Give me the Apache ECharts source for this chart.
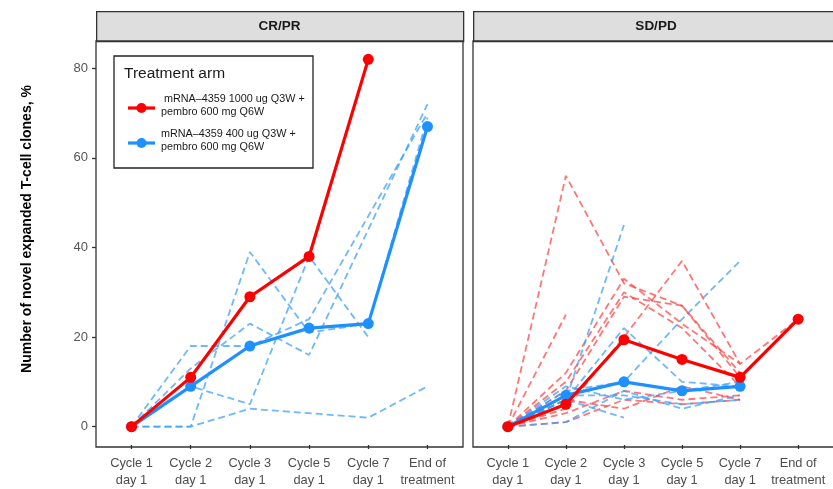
<!DOCTYPE html>
<html>
<head>
<meta charset="utf-8">
<script src="https://cdn.jsdelivr.net/npm/echarts@6/dist/echarts.min.js"></script>
<style>
html,body{margin:0;padding:0;background:#fff;}
#chart{width:833px;height:489px;}
</style>
</head>
<body>
<div id="chart"></div>
<script>
// ---------- data ----------
const categories = ['Cycle 1\nday 1', 'Cycle 2\nday 1', 'Cycle 3\nday 1', 'Cycle 5\nday 1', 'Cycle 7\nday 1', 'End of\ntreatment'];
const yTicks = [0, 20, 40, 60, 80];
const panelTitles = ['CR/PR', 'SD/PD'];
const legendTitle = 'Treatment arm';
const armRedLabel = ' mRNA–4359 1000 ug Q3W +\npembro 600 mg Q6W';
const armBlueLabel = 'mRNA–4359 400 ug Q3W +\npembro 600 mg Q6W';

// CR/PR panel
const crprRedMean = [0, 11, 29, 38, 82, null];
const crprBlueMean = [0, 9, 18, 22, 23, 67];
const crprBluePatients = [
  [0, 0, 4, 3, 2, 9],
  [0, 0, 39, 21, 23, 69],
  [0, 18, 18, 24, 47, 70],
  [0, 13, 23, 16, 44, 72],
  [0, 9, 5, 38, 20, null]
];

// SD/PD panel
const sdpdRedMean = [0, 5, 19.4, 15, 11, 24];
const sdpdBlueMean = [0, 7, 10, 8, 9, null];
const sdpdRedPatients = [
  [0, 56, 32, 27, 12, null],
  [0, 25, null, null, null, null],
  [0, 12, 33, 23, 14, null],
  [0, 4, 20, 37, 14, 24],
  [0, 8, 29, 27, 11, null],
  [0, 6, 4, 9, 6, null],
  [0, 3, 8, 6, 7, null],
  [0, 10, 30, 22, 9, null],
  [0, 1, 6, 5, 6, null]
];
const sdpdBluePatients = [
  [0, 6, 45, null, null, null],
  [0, 8, 10, 24, 37, null],
  [0, 6, 22, 10, 9, null],
  [0, 6, 2, null, null, null],
  [0, 7, 7, 5, 6, null],
  [0, 1, 8, 4, 7, null],
  [0, 9, 6, 8, 10, null]
];

// ---------- styles ----------
const RED = '#ff0000';
const BLUE = '#1e90ff';
const RED_DASH = 'rgba(255,60,60,0.7)';
const BLUE_DASH = 'rgba(60,160,255,0.75)';
const FONT = 'Liberation Sans, Arial, Helvetica, sans-serif';

function toPairs(arr) {
  const out = [];
  arr.forEach((v, i) => { if (v !== null && v !== undefined) out.push([i, v]); });
  return out;
}

const chart = echarts.init(document.getElementById('chart'));

const grids = [
  { left: 96, top: 41, width: 367, height: 406 },
  { left: 473, top: 41, width: 366, height: 406 }
];

const xAxes = grids.map((g, gi) => ({
  type: 'value', gridIndex: gi, min: -0.6, max: 5.6, position: 'bottom',
  splitLine: { show: false },
  axisLine: { show: false, onZero: false },
  axisTick: { show: true, inside: false, customValues: [0, 1, 2, 3, 4, 5], length: 4, lineStyle: { color: '#333', width: 1.3 } },
  axisLabel: {
    customValues: [0, 1, 2, 3, 4, 5],
    formatter: v => categories[Math.round(v)],
    color: '#4d4d4d', fontSize: 12.8, lineHeight: 17, margin: 10, fontFamily: FONT
  }
}));

const yAxes = grids.map((g, gi) => ({
  type: 'value', gridIndex: gi, min: -4.1, max: 86.1, position: 'left',
  splitLine: { show: false },
  axisLine: { show: false, onZero: false },
  axisTick: { show: gi === 0, inside: false, customValues: yTicks, length: 4, lineStyle: { color: '#333', width: 1.3 } },
  axisLabel: {
    show: gi === 0, customValues: yTicks,
    color: '#555', fontSize: 13, margin: 8, fontFamily: FONT
  }
}));

const series = [];
function addDashed(list, color, gi) {
  list.forEach(p => series.push({
    type: 'line', xAxisIndex: gi, yAxisIndex: gi, data: toPairs(p),
    showSymbol: false, symbol: 'none', silent: true, z: 2,
    lineStyle: { color: color, width: 1.8, type: [7, 4] }
  }));
}
function addMean(arr, color, gi, z) {
  series.push({
    type: 'line', xAxisIndex: gi, yAxisIndex: gi, data: toPairs(arr),
    symbol: 'circle', symbolSize: 11, showSymbol: true, z: z,
    itemStyle: { color: color }, lineStyle: { color: color, width: 3.2 }
  });
}
addDashed(crprBluePatients, BLUE_DASH, 0);
addMean(crprBlueMean, BLUE, 0, 5);
addMean(crprRedMean, RED, 0, 6);
addDashed(sdpdRedPatients, RED_DASH, 1);
addDashed(sdpdBluePatients, BLUE_DASH, 1);
addMean(sdpdBlueMean, BLUE, 1, 5);
addMean(sdpdRedMean, RED, 1, 6);

// strips, borders, legend, axis title
const graphics = [];
grids.forEach((g, gi) => {
  graphics.push({
    type: 'rect', left: g.left, top: 11, z: 10,
    shape: { x: 0, y: 0, width: g.width, height: 30 },
    style: { fill: '#dedede', stroke: '#333', lineWidth: 1.3 }
  });
  graphics.push({
    type: 'text', z: 11, x: g.left + g.width / 2, y: 26,
    style: { text: panelTitles[gi], fill: '#1a1a1a', font: 'bold 13.5px ' + FONT, textAlign: 'center', textVerticalAlign: 'middle' }
  });
  graphics.push({
    type: 'rect', z: 10, x: g.left, y: g.top,
    shape: { x: 0, y: 0, width: g.width, height: g.height },
    style: { fill: 'none', stroke: '#333', lineWidth: 1.3 }
  });
});
// legend
graphics.push({
  type: 'rect', z: 20, x: 114, y: 56,
  shape: { x: 0, y: 0, width: 199, height: 112 },
  style: { fill: '#fff', stroke: '#222', lineWidth: 1.3 }
});
graphics.push({
  type: 'text', z: 21, x: 124, y: 74,
  style: { text: legendTitle, fill: '#1a1a1a', font: '15.5px ' + FONT, textVerticalAlign: 'middle' }
});
[[RED, armRedLabel, 108], [BLUE, armBlueLabel, 143]].forEach(([c, label, yy]) => {
  graphics.push({ type: 'line', z: 21, shape: { x1: 128, y1: yy, x2: 155, y2: yy }, style: { stroke: c, lineWidth: 3.2 } });
  graphics.push({ type: 'circle', z: 22, shape: { cx: 141.5, cy: yy, r: 5 }, style: { fill: c } });
  graphics.push({
    type: 'text', z: 21, x: 161, y: yy - 2,
    style: { text: label, fill: '#1a1a1a', font: '10.8px ' + FONT, lineHeight: 13, textVerticalAlign: 'middle' }
  });
});
graphics.push({
  type: 'text', z: 21, x: 27, y: 229, rotation: Math.PI / 2,
  style: { text: 'Number of novel expanded T-cell clones, %', fill: '#000', font: 'bold 14px ' + FONT, textAlign: 'center', textVerticalAlign: 'middle' }
});

chart.setOption({
  animation: false,
  backgroundColor: '#fff',
  grid: grids.map(g => Object.assign({ containLabel: false }, g)),
  xAxis: xAxes,
  yAxis: yAxes,
  series: series,
  graphic: graphics
});
</script>
</body>
</html>
